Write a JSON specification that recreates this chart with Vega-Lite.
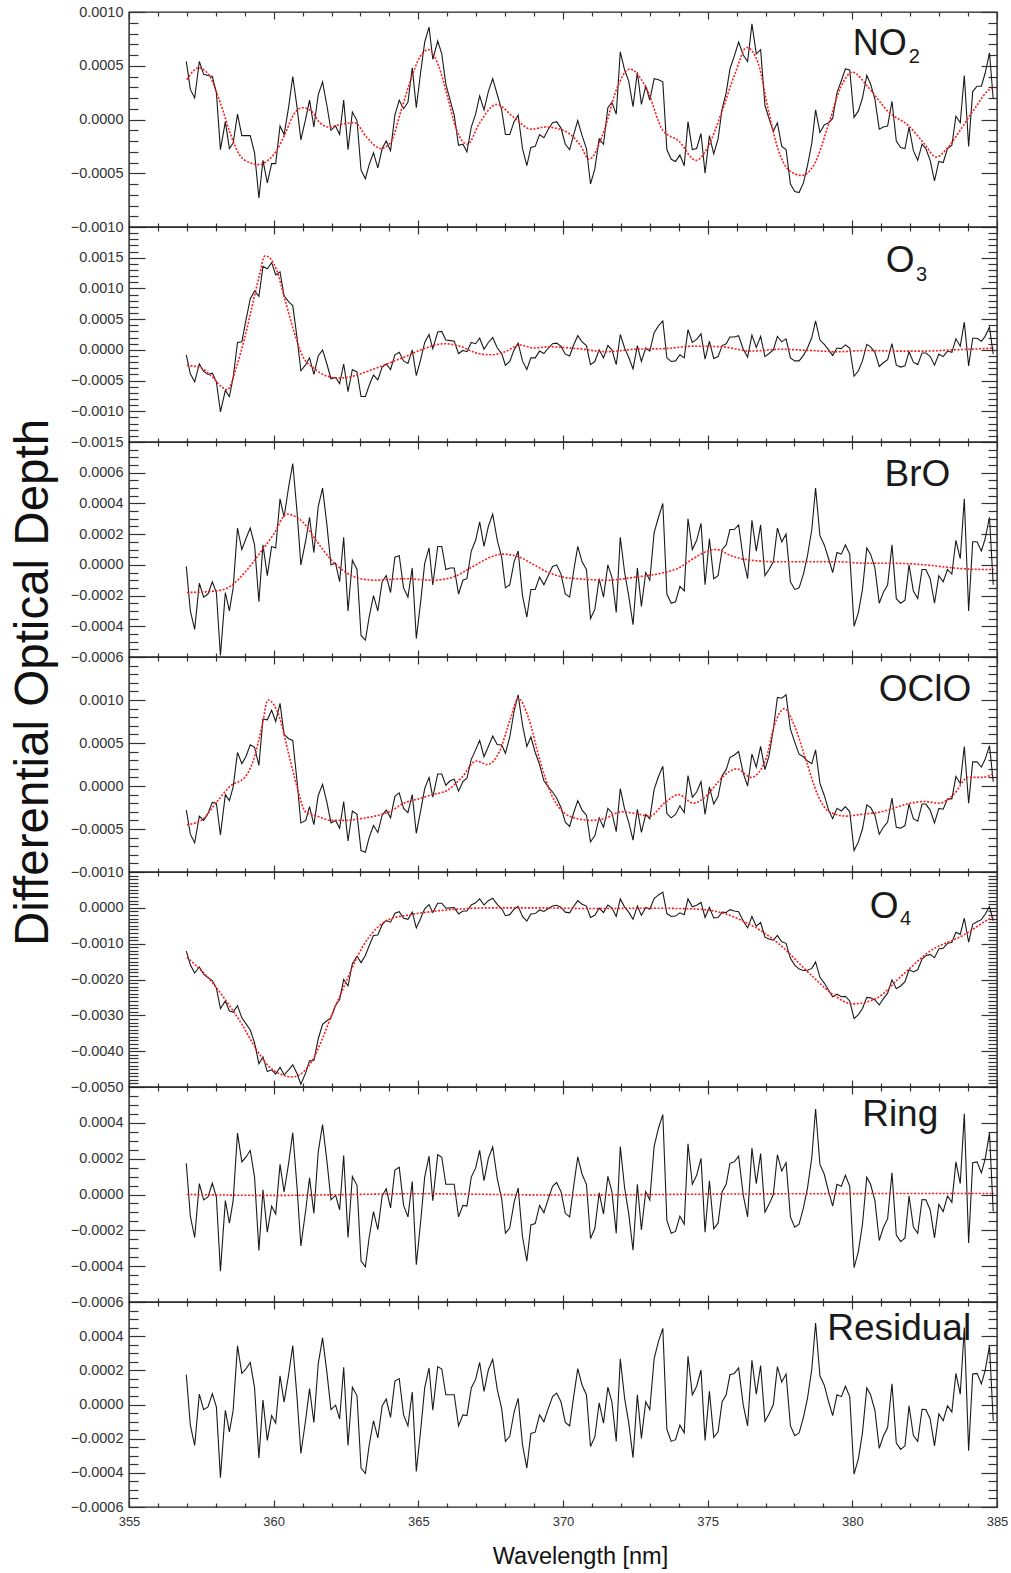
{
"$schema": "https://vega.github.io/schema/vega-lite/v6.json",
"padding": {"left": 8, "top": 3, "right": 5, "bottom": 5},
"bounds": "flush",
"spacing": 0,
"datasets": {
"meas": [
{"w":356.98,"no2":0.00054,"o3":-0.00008,"bro":-0.00001,"oclo":-0.00028,"o4":-0.00121,"res":0.000174},
{"w":357.12,"no2":0.00028,"o3":-0.00039,"bro":-0.0003,"oclo":-0.00056,"o4":-0.00159,"res":-0.000121},
{"w":357.27,"no2":0.0002,"o3":-0.00052,"bro":-0.00042,"oclo":-0.00066,"o4":-0.00182,"res":-0.00024},
{"w":357.43,"no2":0.00054,"o3":-0.00023,"bro":-0.00012,"oclo":-0.00035,"o4":-0.00165,"res":0.000061},
{"w":357.58,"no2":0.00042,"o3":-0.00035,"bro":-0.00021,"oclo":-0.0004,"o4":-0.00185,"res":-0.00003},
{"w":357.73,"no2":0.00041,"o3":-0.0004,"bro":-0.00019,"oclo":-0.00032,"o4":-0.00195,"res":-0.000014},
{"w":357.88,"no2":0.0004,"o3":-0.00038,"bro":-0.00011,"oclo":-0.00019,"o4":-0.00203,"res":0.000063},
{"w":358.02,"no2":0.00025,"o3":-0.00052,"bro":-0.00018,"oclo":-0.0002,"o4":-0.00224,"res":-0.000014},
{"w":358.16,"no2":-0.00028,"o3":-0.00101,"bro":-0.00059,"oclo":-0.00057,"o4":-0.00281,"res":-0.000428},
{"w":358.33,"no2":-0.00002,"o3":-0.00066,"bro":-0.00018,"oclo":-0.0001,"o4":-0.0026,"res":-0.000034},
{"w":358.47,"no2":-0.00027,"o3":-0.00076,"bro":-0.0003,"oclo":-0.00017,"o4":-0.00288,"res":-0.00016},
{"w":358.6,"no2":-0.00022,"o3":-0.00045,"bro":-0.00015,"oclo":-0.00001,"o4":-0.00291,"res":-0.000034},
{"w":358.75,"no2":0.00005,"o3":0.00012,"bro":0.00024,"oclo":0.00039,"o4":-0.00273,"res":0.000343},
{"w":358.9,"no2":-0.00015,"o3":0.00013,"bro":0.0001,"oclo":0.00026,"o4":-0.00307,"res":0.000182},
{"w":359.04,"no2":-0.00015,"o3":0.00048,"bro":0.00017,"oclo":0.00034,"o4":-0.00323,"res":0.000208},
{"w":359.19,"no2":-0.00015,"o3":0.00083,"bro":0.00024,"oclo":0.00048,"o4":-0.00341,"res":0.000246},
{"w":359.34,"no2":-0.00031,"o3":0.00096,"bro":0.00013,"oclo":0.00045,"o4":-0.00377,"res":0.000097},
{"w":359.49,"no2":-0.00073,"o3":0.00087,"bro":-0.00024,"oclo":0.00024,"o4":-0.00435,"res":-0.000313},
{"w":359.63,"no2":-0.00038,"o3":0.00136,"bro":0.00013,"oclo":0.00078,"o4":-0.00416,"res":0.000026},
{"w":359.78,"no2":-0.00059,"o3":0.00132,"bro":-0.00007,"oclo":0.00077,"o4":-0.00457,"res":-0.00021},
{"w":359.93,"no2":-0.00041,"o3":0.00142,"bro":0.00012,"oclo":0.00088,"o4":-0.00452,"res":-0.000065},
{"w":360.07,"no2":-0.00041,"o3":0.00122,"bro":0.00011,"oclo":0.00075,"o4":-0.00464,"res":-0.000109},
{"w":360.22,"no2":-0.00006,"o3":0.00127,"bro":0.00043,"oclo":0.00096,"o4":-0.00445,"res":0.000168},
{"w":360.36,"no2":-0.00014,"o3":0.00088,"bro":0.00031,"oclo":0.0006,"o4":-0.00466,"res":0.000014},
{"w":360.52,"no2":0.00012,"o3":0.00078,"bro":0.00051,"oclo":0.00055,"o4":-0.00452,"res":0.000178},
{"w":360.66,"no2":0.0004,"o3":0.00072,"bro":0.00066,"oclo":0.00053,"o4":-0.00438,"res":0.000345},
{"w":360.81,"no2":0.00011,"o3":0.00019,"bro":0.00034,"oclo":0.00005,"o4":-0.00463,"res":0.000036},
{"w":360.94,"no2":-0.00019,"o3":-0.00034,"bro":0,"oclo":-0.00043,"o4":-0.00492,"res":-0.000287},
{"w":361.11,"no2":0.00001,"o3":-0.00024,"bro":0.00016,"oclo":-0.0004,"o4":-0.0046,"res":-0.000085},
{"w":361.24,"no2":0.00018,"o3":-0.00013,"bro":0.00031,"oclo":-0.00024,"o4":-0.00427,"res":0.000093},
{"w":361.39,"no2":-0.00007,"o3":-0.0004,"bro":0.00008,"oclo":-0.00045,"o4":-0.00426,"res":-0.000105},
{"w":361.54,"no2":0.00023,"o3":-0.0001,"bro":0.00038,"oclo":-0.00011,"o4":-0.00366,"res":0.000238},
{"w":361.69,"no2":0.00035,"o3":0,"bro":0.0005,"oclo":0.00002,"o4":-0.00325,"res":0.00039},
{"w":361.84,"no2":0.00013,"o3":-0.00023,"bro":0.00026,"oclo":-0.00019,"o4":-0.00315,"res":0.000188},
{"w":361.98,"no2":-0.0001,"o3":-0.00047,"bro":0,"oclo":-0.00043,"o4":-0.00307,"res":-0.00003},
{"w":362.14,"no2":-0.00006,"o3":-0.00045,"bro":0.00001,"oclo":-0.0004,"o4":-0.00272,"res":-0.000004},
{"w":362.28,"no2":-0.00014,"o3":-0.00055,"bro":-0.00011,"oclo":-0.00049,"o4":-0.00256,"res":-0.000085},
{"w":362.42,"no2":0.00018,"o3":-0.00023,"bro":0.00018,"oclo":-0.00018,"o4":-0.002,"res":0.000218},
{"w":362.57,"no2":-0.00028,"o3":-0.00068,"bro":-0.0003,"oclo":-0.00064,"o4":-0.00218,"res":-0.00024},
{"w":362.72,"no2":0.00007,"o3":-0.00032,"bro":0.00003,"oclo":-0.00029,"o4":-0.00156,"res":0.000101},
{"w":362.88,"no2":-0.00001,"o3":-0.00036,"bro":-0.00003,"oclo":-0.00033,"o4":-0.00135,"res":0.000051},
{"w":363.02,"no2":-0.00047,"o3":-0.00076,"bro":-0.00046,"oclo":-0.00075,"o4":-0.00153,"res":-0.000372},
{"w":363.17,"no2":-0.00055,"o3":-0.00076,"bro":-0.00049,"oclo":-0.00077,"o4":-0.00133,"res":-0.000404},
{"w":363.3,"no2":-0.00042,"o3":-0.00058,"bro":-0.00034,"oclo":-0.0006,"o4":-0.00106,"res":-0.00024},
{"w":363.45,"no2":-0.00031,"o3":-0.00041,"bro":-0.0002,"oclo":-0.00046,"o4":-0.00077,"res":-0.000095},
{"w":363.6,"no2":-0.00045,"o3":-0.00049,"bro":-0.0003,"oclo":-0.00054,"o4":-0.00076,"res":-0.000196},
{"w":363.75,"no2":-0.00027,"o3":-0.00028,"bro":-0.00011,"oclo":-0.00034,"o4":-0.00047,"res":-0.000008},
{"w":363.89,"no2":-0.0002,"o3":-0.00023,"bro":-0.00007,"oclo":-0.00028,"o4":-0.00035,"res":0.000032},
{"w":364.04,"no2":-0.00029,"o3":-0.00032,"bro":-0.00018,"oclo":-0.00037,"o4":-0.0004,"res":-0.000075},
{"w":364.19,"no2":0.00004,"o3":-0.00008,"bro":0.00005,"oclo":-0.00012,"o4":-0.00015,"res":0.000137},
{"w":364.34,"no2":0.00018,"o3":-0.00004,"bro":0.00006,"oclo":-0.00008,"o4":-0.00011,"res":0.000152},
{"w":364.49,"no2":0.0001,"o3":-0.00018,"bro":-0.00015,"oclo":-0.00026,"o4":-0.00029,"res":-0.000061},
{"w":364.64,"no2":0.00016,"o3":-0.00022,"bro":-0.00021,"oclo":-0.00031,"o4":-0.00032,"res":-0.000125},
{"w":364.79,"no2":0.00048,"o3":0,"bro":-0.00002,"oclo":-0.0001,"o4":-0.00012,"res":0.000073},
{"w":364.93,"no2":0.00011,"o3":-0.00042,"bro":-0.00048,"oclo":-0.00055,"o4":-0.00056,"res":-0.000392},
{"w":365.08,"no2":0.00044,"o3":-0.00016,"bro":-0.00024,"oclo":-0.00029,"o4":-0.0003,"res":-0.000152},
{"w":365.22,"no2":0.00072,"o3":0.00012,"bro":0.00001,"oclo":-0.00003,"o4":-0.00003,"res":0.000097},
{"w":365.37,"no2":0.00086,"o3":0.00025,"bro":0.00011,"oclo":0.0001,"o4":0.00009,"res":0.000214},
{"w":365.5,"no2":0.00056,"o3":0.00002,"bro":-0.00013,"oclo":-0.00013,"o4":-0.00013,"res":-0.000034},
{"w":365.67,"no2":0.00073,"o3":0.00029,"bro":0.00012,"oclo":0.00014,"o4":0.00013,"res":0.000222},
{"w":365.81,"no2":0.00061,"o3":0.0003,"bro":0.00012,"oclo":0.00014,"o4":0.00013,"res":0.000208},
{"w":365.95,"no2":0.00033,"o3":0.00016,"bro":-0.00003,"oclo":0.00001,"o4":-0.00001,"res":0.000057},
{"w":366.1,"no2":0.00018,"o3":0.00015,"bro":-0.00002,"oclo":0.00006,"o4":0,"res":0.000057},
{"w":366.24,"no2":0.00004,"o3":0.00014,"bro":-0.00002,"oclo":0.00008,"o4":0.00001,"res":0.000057},
{"w":366.39,"no2":-0.00024,"o3":-0.00006,"bro":-0.00019,"oclo":-0.00006,"o4":-0.00017,"res":-0.000125},
{"w":366.54,"no2":-0.00023,"o3":-0.00001,"bro":-0.0001,"oclo":0.00005,"o4":-0.00009,"res":-0.000061},
{"w":366.68,"no2":-0.0003,"o3":-0.00003,"bro":-0.00009,"oclo":0.00009,"o4":-0.00009,"res":-0.000065},
{"w":366.83,"no2":-0.00007,"o3":0.00012,"bro":0.00009,"oclo":0.00031,"o4":0.00008,"res":0.000097},
{"w":366.98,"no2":0.00005,"o3":0.0001,"bro":0.00016,"oclo":0.00042,"o4":0.00014,"res":0.000147},
{"w":367.12,"no2":0.00022,"o3":0.00019,"bro":0.00028,"oclo":0.00053,"o4":0.00025,"res":0.000246},
{"w":367.27,"no2":0.00009,"o3":0.00001,"bro":0.00012,"oclo":0.00034,"o4":0.00008,"res":0.000077},
{"w":367.42,"no2":0.00026,"o3":0.00012,"bro":0.00025,"oclo":0.00046,"o4":0.0002,"res":0.000202},
{"w":367.57,"no2":0.00038,"o3":0.0002,"bro":0.00033,"oclo":0.00058,"o4":0.00027,"res":0.000265},
{"w":367.73,"no2":0.00023,"o3":0.00003,"bro":0.00016,"oclo":0.00048,"o4":0.00009,"res":0.000087},
{"w":367.88,"no2":0.00009,"o3":-0.00006,"bro":0.00005,"oclo":0.00048,"o4":-0.00002,"res":-0.000024},
{"w":368.01,"no2":-0.00014,"o3":-0.00025,"bro":-0.00015,"oclo":0.00038,"o4":-0.00022,"res":-0.000216},
{"w":368.16,"no2":-0.00014,"o3":-0.00019,"bro":-0.00013,"oclo":0.00057,"o4":-0.00019,"res":-0.000186},
{"w":368.31,"no2":-0.00002,"o3":0,"bro":0.00002,"oclo":0.00087,"o4":-0.00004,"res":-0.000044},
{"w":368.45,"no2":0.00004,"o3":0.00011,"bro":0.00009,"oclo":0.00106,"o4":0.00004,"res":0.000036},
{"w":368.6,"no2":-0.00027,"o3":-0.00018,"bro":-0.0002,"oclo":0.00071,"o4":-0.00024,"res":-0.000236},
{"w":368.75,"no2":-0.00043,"o3":-0.00032,"bro":-0.00034,"oclo":0.00046,"o4":-0.00037,"res":-0.000372},
{"w":368.89,"no2":-0.00026,"o3":-0.00013,"bro":-0.00016,"oclo":0.00057,"o4":-0.00017,"res":-0.00017},
{"w":369.04,"no2":-0.00025,"o3":-0.00013,"bro":-0.00016,"oclo":0.00039,"o4":-0.00016,"res":-0.000162},
{"w":369.19,"no2":-0.00014,"o3":-0.00002,"bro":-0.00008,"oclo":0.00025,"o4":-0.00006,"res":-0.000061},
{"w":369.34,"no2":-0.00017,"o3":-0.00006,"bro":-0.00013,"oclo":0.00006,"o4":-0.0001,"res":-0.000101},
{"w":369.49,"no2":-0.00009,"o3":0.00003,"bro":-0.00007,"oclo":-0.00001,"o4":-0.00002,"res":-0.000024},
{"w":369.64,"no2":-0.00003,"o3":0.0001,"bro":-0.00001,"oclo":-0.00007,"o4":0.00005,"res":0.000046},
{"w":369.78,"no2":-0.00002,"o3":0.00011,"bro":0,"oclo":-0.00014,"o4":0.00007,"res":0.000067},
{"w":369.93,"no2":-0.00008,"o3":0.00006,"bro":-0.00006,"oclo":-0.00025,"o4":0.00002,"res":0.000016},
{"w":370.08,"no2":-0.00023,"o3":-0.00007,"bro":-0.00019,"oclo":-0.00042,"o4":-0.00012,"res":-0.000105},
{"w":370.23,"no2":-0.00028,"o3":-0.0001,"bro":-0.00021,"oclo":-0.00047,"o4":-0.00014,"res":-0.000125},
{"w":370.36,"no2":-0.00015,"o3":0.00007,"bro":-0.00005,"oclo":-0.00032,"o4":0.00003,"res":0.000036},
{"w":370.51,"no2":-0.00001,"o3":0.00023,"bro":0.00012,"oclo":-0.00017,"o4":0.0002,"res":0.00021},
{"w":370.66,"no2":-0.00015,"o3":0.00013,"bro":0.00002,"oclo":-0.00028,"o4":0.0001,"res":0.000113},
{"w":370.81,"no2":-0.00027,"o3":0.00007,"bro":-0.00003,"oclo":-0.00034,"o4":0.00005,"res":0.000057},
{"w":370.95,"no2":-0.0006,"o3":-0.00024,"bro":-0.00035,"oclo":-0.00065,"o4":-0.00027,"res":-0.000246},
{"w":371.1,"no2":-0.00046,"o3":-0.00019,"bro":-0.00029,"oclo":-0.00058,"o4":-0.00021,"res":-0.00019},
{"w":371.25,"no2":-0.00018,"o3":0,"bro":-0.00009,"oclo":-0.00037,"o4":-0.00001,"res":0.00001},
{"w":371.4,"no2":-0.00023,"o3":-0.00013,"bro":-0.00021,"oclo":-0.00048,"o4":-0.00013,"res":-0.000109},
{"w":371.55,"no2":0.00011,"o3":0.00007,"bro":0,"oclo":-0.00026,"o4":0.00008,"res":0.000101},
{"w":371.69,"no2":0.00016,"o3":0,"bro":-0.00008,"oclo":-0.00031,"o4":0,"res":0.000016},
{"w":371.84,"no2":0.00005,"o3":-0.00024,"bro":-0.00031,"oclo":-0.00053,"o4":-0.00024,"res":-0.000216},
{"w":371.98,"no2":0.00063,"o3":0.00025,"bro":0.00018,"oclo":-0.00003,"o4":0.00025,"res":0.000267},
{"w":372.13,"no2":0.00046,"o3":0.00003,"bro":-0.00005,"oclo":-0.00027,"o4":0.00002,"res":0.000036},
{"w":372.27,"no2":0.00036,"o3":-0.00012,"bro":-0.0002,"oclo":-0.00042,"o4":-0.00012,"res":-0.000105},
{"w":372.42,"no2":0.00012,"o3":-0.00031,"bro":-0.00039,"oclo":-0.00063,"o4":-0.00032,"res":-0.000311},
{"w":372.57,"no2":0.00044,"o3":0.00007,"bro":-0.00002,"oclo":-0.00027,"o4":0.00005,"res":0.000057},
{"w":372.71,"no2":0.00014,"o3":-0.00019,"bro":-0.00027,"oclo":-0.00054,"o4":-0.00021,"res":-0.000198},
{"w":372.86,"no2":0.00031,"o3":0.00003,"bro":-0.00005,"oclo":-0.00033,"o4":0.00001,"res":0.000016},
{"w":373.0,"no2":0.00018,"o3":-0.00002,"bro":-0.0001,"oclo":-0.00038,"o4":-0.00004,"res":-0.00003},
{"w":373.15,"no2":0.00038,"o3":0.00028,"bro":0.00021,"oclo":-0.00004,"o4":0.00026,"res":0.000269},
{"w":373.3,"no2":0.00037,"o3":0.00039,"bro":0.00031,"oclo":0.00011,"o4":0.00036,"res":0.00037},
{"w":373.45,"no2":0.00035,"o3":0.00047,"bro":0.0004,"oclo":0.00023,"o4":0.00044,"res":0.000446},
{"w":373.59,"no2":-0.00028,"o3":-0.00013,"bro":-0.00019,"oclo":-0.00032,"o4":-0.00016,"res":-0.000145},
{"w":373.74,"no2":-0.00037,"o3":-0.00019,"bro":-0.00025,"oclo":-0.00037,"o4":-0.00024,"res":-0.000216},
{"w":373.89,"no2":-0.00039,"o3":-0.00018,"bro":-0.00024,"oclo":-0.00033,"o4":-0.00023,"res":-0.000206},
{"w":374.04,"no2":-0.00033,"o3":-0.00008,"bro":-0.00014,"oclo":-0.00023,"o4":-0.00014,"res":-0.000121},
{"w":374.19,"no2":-0.00043,"o3":-0.00013,"bro":-0.00017,"oclo":-0.00031,"o4":-0.00019,"res":-0.000166},
{"w":374.32,"no2":-0.00002,"o3":0.00033,"bro":0.0003,"oclo":0.00012,"o4":0.00025,"res":0.000283},
{"w":374.47,"no2":-0.00028,"o3":0.00012,"bro":0.0001,"oclo":-0.00013,"o4":0.00003,"res":0.000057},
{"w":374.62,"no2":-0.00027,"o3":0.00017,"bro":0.00016,"oclo":-0.00007,"o4":0.00007,"res":0.000107},
{"w":374.77,"no2":-0.00013,"o3":0.00026,"bro":0.00027,"oclo":0.00005,"o4":0.00015,"res":0.000202},
{"w":374.91,"no2":-0.0005,"o3":-0.00015,"bro":-0.00013,"oclo":-0.00033,"o4":-0.00027,"res":-0.00021},
{"w":375.06,"no2":-0.00015,"o3":0.00014,"bro":0.00017,"oclo":-0.00001,"o4":0.00001,"res":0.000077},
{"w":375.21,"no2":-0.00032,"o3":-0.00014,"bro":-0.00009,"oclo":-0.00021,"o4":-0.00028,"res":-0.000192},
{"w":375.36,"no2":-0.00018,"o3":-0.00011,"bro":-0.00007,"oclo":-0.00012,"o4":-0.00027,"res":-0.00016},
{"w":375.5,"no2":0.0001,"o3":0.00007,"bro":0.0001,"oclo":0.00012,"o4":-0.00012,"res":0.000016},
{"w":375.64,"no2":0.00025,"o3":0.0001,"bro":0.00013,"oclo":0.00019,"o4":-0.00013,"res":0.000057},
{"w":375.77,"no2":0.00047,"o3":0.00021,"bro":0.00023,"oclo":0.00033,"o4":-0.00005,"res":0.000174},
{"w":375.92,"no2":0.00059,"o3":0.00021,"bro":0.00023,"oclo":0.00036,"o4":-0.00009,"res":0.000182},
{"w":376.07,"no2":0.00072,"o3":0.00023,"bro":0.00026,"oclo":0.0004,"o4":-0.00011,"res":0.000214},
{"w":376.23,"no2":0.0006,"o3":0.00001,"bro":0.00004,"oclo":0.00015,"o4":-0.00037,"res":-0.000004},
{"w":376.38,"no2":0.00054,"o3":-0.00012,"bro":-0.00009,"oclo":0,"o4":-0.00056,"res":-0.000125},
{"w":376.53,"no2":0.00089,"o3":0.00024,"bro":0.00029,"oclo":0.00037,"o4":-0.00024,"res":0.000259},
{"w":376.68,"no2":0.00061,"o3":0.00004,"bro":0.00009,"oclo":0.00022,"o4":-0.00051,"res":0.000061},
{"w":376.83,"no2":0.00065,"o3":0.00022,"bro":0.00026,"oclo":0.00046,"o4":-0.00041,"res":0.000228},
{"w":376.98,"no2":0.00013,"o3":-0.00011,"bro":-0.00007,"oclo":0.00019,"o4":-0.00082,"res":-0.000099},
{"w":377.12,"no2":0.00001,"o3":-0.00006,"bro":-0.00003,"oclo":0.00035,"o4":-0.00087,"res":-0.000055},
{"w":377.27,"no2":-0.00011,"o3":0,"bro":0.00002,"oclo":0.00066,"o4":-0.0009,"res":0},
{"w":377.41,"no2":-0.00003,"o3":0.00022,"bro":0.00024,"oclo":0.00103,"o4":-0.00077,"res":0.000222},
{"w":377.56,"no2":-0.00025,"o3":0.00013,"bro":0.00015,"oclo":0.00102,"o4":-0.00095,"res":0.000131},
{"w":377.71,"no2":-0.00028,"o3":0.00018,"bro":0.0002,"oclo":0.00106,"o4":-0.00099,"res":0.000178},
{"w":377.86,"no2":-0.0006,"o3":-0.00013,"bro":-0.00011,"oclo":0.00066,"o4":-0.00141,"res":-0.000125},
{"w":378.01,"no2":-0.00067,"o3":-0.00018,"bro":-0.00016,"oclo":0.00051,"o4":-0.0016,"res":-0.000182},
{"w":378.16,"no2":-0.00068,"o3":-0.00018,"bro":-0.00015,"oclo":0.00037,"o4":-0.00171,"res":-0.000166},
{"w":378.31,"no2":-0.00059,"o3":-0.00009,"bro":-0.00006,"oclo":0.00034,"o4":-0.00175,"res":-0.000075},
{"w":378.45,"no2":-0.00043,"o3":0.00003,"bro":0.00006,"oclo":0.00029,"o4":-0.00174,"res":0.000036},
{"w":378.6,"no2":-0.00022,"o3":0.0002,"bro":0.00023,"oclo":0.00026,"o4":-0.00169,"res":0.000208},
{"w":378.73,"no2":0.00009,"o3":0.00047,"bro":0.0005,"oclo":0.00042,"o4":-0.00151,"res":0.000477},
{"w":378.88,"no2":-0.00012,"o3":0.00016,"bro":0.00019,"oclo":0.00003,"o4":-0.00194,"res":0.000168},
{"w":379.03,"no2":-0.00005,"o3":0.00009,"bro":0.00013,"oclo":-0.00011,"o4":-0.0021,"res":0.000113},
{"w":379.18,"no2":-0.00003,"o3":0,"bro":0.00004,"oclo":-0.00028,"o4":-0.0023,"res":0.000016},
{"w":379.32,"no2":0.00001,"o3":-0.00009,"bro":-0.00005,"oclo":-0.00038,"o4":-0.00248,"res":-0.000065},
{"w":379.47,"no2":0.00025,"o3":0.00003,"bro":0.00008,"oclo":-0.00026,"o4":-0.00241,"res":0.000057},
{"w":379.62,"no2":0.00036,"o3":0.00002,"bro":0.00007,"oclo":-0.00029,"o4":-0.00248,"res":0.000046},
{"w":379.76,"no2":0.00047,"o3":0.00008,"bro":0.00013,"oclo":-0.00024,"o4":-0.00247,"res":0.000107},
{"w":379.91,"no2":0.00046,"o3":0.00003,"bro":0.00007,"oclo":-0.0003,"o4":-0.0026,"res":0.000046},
{"w":380.06,"no2":0.00002,"o3":-0.00043,"bro":-0.0004,"oclo":-0.00075,"o4":-0.00309,"res":-0.000408},
{"w":380.21,"no2":0.00008,"o3":-0.00034,"bro":-0.00031,"oclo":-0.00065,"o4":-0.00298,"res":-0.000317},
{"w":380.35,"no2":0.0002,"o3":-0.00018,"bro":-0.00016,"oclo":-0.0005,"o4":-0.00281,"res":-0.000166},
{"w":380.5,"no2":0.00041,"o3":0.00009,"bro":0.00011,"oclo":-0.00022,"o4":-0.0025,"res":0.000097},
{"w":380.63,"no2":0.00033,"o3":0.00005,"bro":0.00007,"oclo":-0.00025,"o4":-0.00251,"res":0.000057},
{"w":380.78,"no2":0.00019,"o3":-0.00004,"bro":-0.00002,"oclo":-0.00034,"o4":-0.00257,"res":-0.000034},
{"w":380.93,"no2":-0.00009,"o3":-0.00027,"bro":-0.00025,"oclo":-0.00056,"o4":-0.00271,"res":-0.000257},
{"w":381.07,"no2":-0.00007,"o3":-0.00021,"bro":-0.00018,"oclo":-0.00048,"o4":-0.00254,"res":-0.000186},
{"w":381.22,"no2":-0.00006,"o3":-0.00016,"bro":-0.00013,"oclo":-0.00042,"o4":-0.00238,"res":-0.000135},
{"w":381.37,"no2":0.00017,"o3":0.0001,"bro":0.00013,"oclo":-0.00014,"o4":-0.00201,"res":0.000121},
{"w":381.52,"no2":-0.0002,"o3":-0.00025,"bro":-0.00022,"oclo":-0.00048,"o4":-0.00226,"res":-0.000226},
{"w":381.67,"no2":-0.00026,"o3":-0.00028,"bro":-0.00025,"oclo":-0.00049,"o4":-0.00218,"res":-0.000263},
{"w":381.82,"no2":-0.00027,"o3":-0.00026,"bro":-0.00023,"oclo":-0.00046,"o4":-0.00206,"res":-0.000242},
{"w":381.96,"no2":-0.00007,"o3":-0.00003,"bro":0,"oclo":-0.00021,"o4":-0.00173,"res":-0.000008},
{"w":382.11,"no2":-0.00029,"o3":-0.0002,"bro":-0.00017,"oclo":-0.00038,"o4":-0.00179,"res":-0.000182},
{"w":382.26,"no2":-0.00038,"o3":-0.00024,"bro":-0.00022,"oclo":-0.00041,"o4":-0.00173,"res":-0.000216},
{"w":382.41,"no2":-0.00023,"o3":-0.00005,"bro":-0.00003,"oclo":-0.00021,"o4":-0.00143,"res":-0.000028},
{"w":382.54,"no2":-0.00027,"o3":-0.00005,"bro":-0.00003,"oclo":-0.00021,"o4":-0.00134,"res":-0.00003},
{"w":382.69,"no2":-0.00038,"o3":-0.00011,"bro":-0.00009,"oclo":-0.00028,"o4":-0.0013,"res":-0.000085},
{"w":382.84,"no2":-0.00057,"o3":-0.00025,"bro":-0.00025,"oclo":-0.00043,"o4":-0.00139,"res":-0.000242},
{"w":382.99,"no2":-0.00039,"o3":-0.00007,"bro":-0.00007,"oclo":-0.00026,"o4":-0.00115,"res":-0.000055},
{"w":383.14,"no2":-0.0004,"o3":-0.00011,"bro":-0.00011,"oclo":-0.00027,"o4":-0.00113,"res":-0.000095},
{"w":383.29,"no2":-0.00027,"o3":-0.00002,"bro":-0.00003,"oclo":-0.00015,"o4":-0.00099,"res":-0.000008},
{"w":383.44,"no2":-0.00024,"o3":-0.00004,"bro":-0.00006,"oclo":-0.00015,"o4":-0.00096,"res":-0.000044},
{"w":383.58,"no2":0.00003,"o3":0.00018,"bro":0.00016,"oclo":0.00011,"o4":-0.00068,"res":0.000182},
{"w":383.73,"no2":-0.00003,"o3":0.00006,"bro":0.00004,"oclo":0.00003,"o4":-0.00074,"res":0.000061},
{"w":383.87,"no2":0.00041,"o3":0.00045,"bro":0.00043,"oclo":0.00046,"o4":-0.00029,"res":0.00045},
{"w":384.02,"no2":-0.00025,"o3":-0.00026,"bro":-0.0003,"oclo":-0.0002,"o4":-0.00096,"res":-0.000271},
{"w":384.16,"no2":0.00026,"o3":0.00019,"bro":0.00015,"oclo":0.00028,"o4":-0.00046,"res":0.000178},
{"w":384.31,"no2":0.00031,"o3":0.00019,"bro":0.00015,"oclo":0.00028,"o4":-0.00039,"res":0.000182},
{"w":384.46,"no2":0.00031,"o3":0.00014,"bro":0.00009,"oclo":0.00022,"o4":-0.00033,"res":0.000121},
{"w":384.59,"no2":0.00043,"o3":0.00022,"bro":0.00017,"oclo":0.00031,"o4":-0.00018,"res":0.000198},
{"w":384.74,"no2":0.00062,"o3":0.00037,"bro":0.00031,"oclo":0.00047,"o4":0.00003,"res":0.000343},
{"w":384.87,"no2":0.00019,"o3":-0.00007,"bro":-0.00013,"oclo":0.00005,"o4":-0.00036,"res":-0.000095}
],
"no2f": [
{"w":357.0,"v":0.00037},{"w":357.4,"v":0.00048},{"w":357.8,"v":0.0004},{"w":358.0,"v":0.00027},{"w":358.25,"v":0.00008},{"w":358.5,"v":-0.00013},{"w":358.8,"v":-0.00032},{"w":359.15,"v":-0.0004},{"w":359.5,"v":-0.00042},{"w":359.8,"v":-0.00038},{"w":360.1,"v":-0.00029},{"w":360.4,"v":-0.00013},{"w":360.7,"v":0.00005},{"w":361.0,"v":0.00011},{"w":361.3,"v":0.00008},{"w":361.6,"v":-0.00003},{"w":361.9,"v":-0.00007},{"w":362.4,"v":-0.00004},{"w":362.8,"v":-0.00003},{"w":363.2,"v":-0.00016},{"w":363.7,"v":-0.00027},{"w":364.05,"v":-0.00021},{"w":364.4,"v":0.00008},{"w":364.75,"v":0.00038},{"w":365.05,"v":0.00058},{"w":365.35,"v":0.00065},{"w":365.7,"v":0.0005},{"w":366.0,"v":0.00022},{"w":366.3,"v":-0.00008},{"w":366.7,"v":-0.00023},{"w":367.1,"v":-0.00004},{"w":367.7,"v":0.00014},{"w":368.3,"v":0.00002},{"w":368.9,"v":-0.00009},{"w":369.4,"v":-0.00007},{"w":370.0,"v":-0.0001},{"w":370.6,"v":-0.00024},{"w":370.9,"v":-0.00037},{"w":371.4,"v":-0.00012},{"w":371.85,"v":0.00028},{"w":372.3,"v":0.00047},{"w":372.9,"v":0.00028},{"w":373.45,"v":-0.0001},{"w":374.0,"v":-0.0002},{"w":374.6,"v":-0.00038},{"w":375.0,"v":-0.00026},{"w":375.5,"v":0.00008},{"w":375.95,"v":0.00043},{"w":376.35,"v":0.00067},{"w":376.75,"v":0.00052},{"w":377.1,"v":0.00008},{"w":377.45,"v":-0.00029},{"w":377.8,"v":-0.00047},{"w":378.25,"v":-0.00052},{"w":378.7,"v":-0.00041},{"w":379.15,"v":-0.00007},{"w":379.6,"v":0.0003},{"w":380.0,"v":0.00044},{"w":380.55,"v":0.0003},{"w":381.25,"v":0.00007},{"w":381.95,"v":-0.00006},{"w":382.5,"v":-0.00023},{"w":382.9,"v":-0.00035},{"w":383.3,"v":-0.00026},{"w":383.8,"v":-0.00007},{"w":384.25,"v":0.00011},{"w":384.75,"v":0.00028},{"w":384.9,"v":0.00029}
],
"o3f": [
{"w":357.0,"v":-0.00025},{"w":357.5,"v":-0.0003},{"w":357.9,"v":-0.00045},{"w":358.2,"v":-0.0006},{"w":358.4,"v":-0.00065},{"w":358.7,"v":-0.0003},{"w":359.0,"v":0.0002},{"w":359.3,"v":0.0008},{"w":359.5,"v":0.0012},{"w":359.7,"v":0.00153},{"w":359.9,"v":0.00148},{"w":360.1,"v":0.0013},{"w":360.4,"v":0.0008},{"w":360.7,"v":0.0003},{"w":361.0,"v":-0.0001},{"w":361.4,"v":-0.0003},{"w":361.8,"v":-0.00042},{"w":362.3,"v":-0.00046},{"w":362.8,"v":-0.00042},{"w":363.3,"v":-0.00034},{"w":363.8,"v":-0.00025},{"w":364.5,"v":-0.00012},{"w":365.2,"v":0.00002},{"w":365.9,"v":0.0001},{"w":366.5,"v":0.00005},{"w":367.0,"v":-0.00005},{"w":367.5,"v":-0.00008},{"w":368.0,"v":-0.00003},{"w":368.5,"v":0.00008},{"w":369.0,"v":0.00003},{"w":369.5,"v":0.00005},{"w":370.5,"v":0.00002},{"w":371.5,"v":-0.00003},{"w":372.5,"v":0.00001},{"w":373.5,"v":0.00002},{"w":374.5,"v":0.00006},{"w":375.5,"v":0.00005},{"w":376.5,"v":-0.00002},{"w":377.5,"v":0.00001},{"w":378.5,"v":-0.00001},{"w":379.5,"v":-0.00003},{"w":380.5,"v":-0.00001},{"w":381.5,"v":-0.00002},{"w":382.5,"v":-0.00002},{"w":383.5,"v":0},{"w":384.5,"v":0.00002},{"w":384.9,"v":0.00003}
],
"brof": [
{"w":357.0,"v":-0.00018},{"w":358.0,"v":-0.00017},{"w":358.5,"v":-0.00014},{"w":359.0,"v":-0.00005},{"w":359.5,"v":0.00007},{"w":360.0,"v":0.0002},{"w":360.45,"v":0.00033},{"w":361.0,"v":0.00028},{"w":361.5,"v":0.00015},{"w":362.0,"v":0.00003},{"w":362.5,"v":-0.00005},{"w":363.0,"v":-0.00009},{"w":363.5,"v":-0.0001},{"w":364.5,"v":-0.00009},{"w":365.5,"v":-0.0001},{"w":366.2,"v":-0.00008},{"w":366.8,"v":-0.00002},{"w":367.5,"v":0.00005},{"w":367.9,"v":0.00007},{"w":368.5,"v":0.00005},{"w":369.0,"v":0},{"w":369.5,"v":-0.00005},{"w":370.0,"v":-0.00008},{"w":370.5,"v":-0.00009},{"w":371.5,"v":-0.0001},{"w":372.5,"v":-0.00008},{"w":373.5,"v":-0.00005},{"w":374.0,"v":-0.00002},{"w":374.5,"v":0.00004},{"w":375.0,"v":0.00009},{"w":375.3,"v":0.0001},{"w":375.8,"v":0.00006},{"w":376.5,"v":0.00003},{"w":377.5,"v":0.00002},{"w":378.5,"v":0.00002},{"w":379.5,"v":0.00002},{"w":380.5,"v":0.00001},{"w":381.5,"v":0.00001},{"w":382.5,"v":0},{"w":383.0,"v":-0.00001},{"w":383.5,"v":-0.00002},{"w":384.5,"v":-0.00003},{"w":384.9,"v":-0.00003}
],
"oclof": [
{"w":357.0,"v":-0.00045},{"w":357.5,"v":-0.0004},{"w":358.0,"v":-0.0002},{"w":358.5,"v":0},{"w":359.0,"v":0.0001},{"w":359.3,"v":0.0003},{"w":359.6,"v":0.0007},{"w":359.8,"v":0.001},{"w":360.2,"v":0.0008},{"w":360.5,"v":0.0004},{"w":360.8,"v":0},{"w":361.1,"v":-0.0003},{"w":361.5,"v":-0.00035},{"w":362.0,"v":-0.0004},{"w":362.5,"v":-0.0004},{"w":363.0,"v":-0.00038},{"w":363.5,"v":-0.00035},{"w":364.0,"v":-0.0003},{"w":364.5,"v":-0.0002},{"w":365.0,"v":-0.00015},{"w":365.5,"v":-0.0001},{"w":366.0,"v":-0.00005},{"w":366.5,"v":0.0001},{"w":367.0,"v":0.00029},{"w":367.4,"v":0.00025},{"w":367.8,"v":0.0004},{"w":368.2,"v":0.0008},{"w":368.45,"v":0.00102},{"w":368.8,"v":0.0008},{"w":369.2,"v":0.0003},{"w":369.6,"v":-0.0001},{"w":370.0,"v":-0.0003},{"w":370.5,"v":-0.00038},{"w":371.0,"v":-0.0004},{"w":371.5,"v":-0.00037},{"w":372.0,"v":-0.0003},{"w":372.5,"v":-0.00032},{"w":373.0,"v":-0.00035},{"w":373.5,"v":-0.0002},{"w":374.0,"v":-0.0001},{"w":374.5,"v":-0.0002},{"w":375.0,"v":-0.0001},{"w":375.5,"v":0.0001},{"w":376.0,"v":0.0002},{"w":376.5,"v":0.0001},{"w":377.0,"v":0.0003},{"w":377.3,"v":0.0007},{"w":377.65,"v":0.0009},{"w":378.0,"v":0.0007},{"w":378.4,"v":0.0003},{"w":378.8,"v":-0.0001},{"w":379.2,"v":-0.0003},{"w":379.8,"v":-0.00035},{"w":380.3,"v":-0.00033},{"w":381.0,"v":-0.0003},{"w":381.5,"v":-0.00025},{"w":382.0,"v":-0.0002},{"w":382.5,"v":-0.00018},{"w":383.0,"v":-0.0002},{"w":383.5,"v":-0.0001},{"w":384.0,"v":0.0001},{"w":384.5,"v":0.0001},{"w":384.9,"v":0.00015}
],
"o4f": [
{"w":357.0,"v":-0.00138},{"w":357.3,"v":-0.0016},{"w":357.64,"v":-0.00186},{"w":357.98,"v":-0.00219},{"w":358.45,"v":-0.0027},{"w":358.91,"v":-0.00326},{"w":359.37,"v":-0.00391},{"w":359.83,"v":-0.00442},{"w":360.29,"v":-0.00466},{"w":360.63,"v":-0.00472},{"w":360.98,"v":-0.00461},{"w":361.32,"v":-0.00428},{"w":361.67,"v":-0.00368},{"w":362.01,"v":-0.00298},{"w":362.36,"v":-0.00233},{"w":362.71,"v":-0.00168},{"w":363.05,"v":-0.00112},{"w":363.51,"v":-0.00061},{"w":363.97,"v":-0.00033},{"w":364.66,"v":-0.0002},{"w":365.5,"v":-0.0001},{"w":366.5,"v":-0.00003},{"w":367.5,"v":0},{"w":369.0,"v":0},{"w":371.0,"v":-0.00002},{"w":373.0,"v":-0.00001},{"w":374.5,"v":-0.00003},{"w":375.5,"v":-0.00014},{"w":376.2,"v":-0.00036},{"w":376.9,"v":-0.00067},{"w":377.6,"v":-0.0011},{"w":378.25,"v":-0.00162},{"w":378.8,"v":-0.00205},{"w":379.3,"v":-0.0024},{"w":380.0,"v":-0.00268},{"w":380.8,"v":-0.00254},{"w":381.7,"v":-0.0019},{"w":382.7,"v":-0.0012},{"w":383.8,"v":-0.00078},{"w":384.8,"v":-0.00028},{"w":384.9,"v":-0.00024}
],
"ringf": [
{"w":357.0,"v":0},{"w":360.0,"v":-0.000005},{"w":365.0,"v":0.000004},{"w":370.0,"v":-0.000003},{"w":375.0,"v":0.000002},{"w":380.0,"v":0.000005},{"w":384.9,"v":0.000006}
]
},
"vconcat": [
{"width": 868, "height": 215,
 "resolve": {"axis": {"x": "independent", "y": "independent"}},
 "layer": [
  {"data": {"name": "meas"}, "mark": {"type": "line", "color": "#1a1a1a", "strokeWidth": 1.1},
   "encoding": {
    "x": {"field": "w", "type": "quantitative", "scale": {"domain": [355, 385]}, "axis": {"orient": "bottom", "values": [355,360,365,370,375,380,385], "labels": false, "tickSize": -7, "title": null}},
    "y": {"field": "no2", "type": "quantitative", "scale": {"domain": [-0.001, 0.001]}, "axis": {"orient": "left", "values": [-0.001,-0.0005,0,0.0005,0.001], "format": ".4f", "tickSize": -16, "labelPadding": 22, "title": null}}}},
  {"data": {"name": "no2f"}, "mark": {"type": "line", "color": "#ff1a1a", "strokeWidth": 1.6, "strokeDash": [2, 1.6], "interpolate": "monotone"},
   "encoding": {
    "x": {"field": "w", "type": "quantitative", "scale": {"domain": [355, 385]}, "axis": {"orient": "top", "values": [355,360,365,370,375,380,385], "labels": false, "tickSize": -7, "title": null}},
    "y": {"field": "v", "type": "quantitative", "scale": {"domain": [-0.001, 0.001]}, "axis": {"orient": "right", "values": [-0.001,-0.0005,0,0.0005,0.001], "labels": false, "tickSize": -16, "title": null}}}},
  {"data": {"values": [{"t": "NO"}]}, "mark": {"type": "text", "align": "right", "baseline": "alphabetic", "fontSize": 36},
   "encoding": {
    "x": {"datum": 381.88, "type": "quantitative", "scale": {"domain": [355, 385]}, "axis": {"orient": "bottom", "values": [356,357,358,359,361,362,363,364,366,367,368,369,371,372,373,374,376,377,378,379,381,382,383,384], "labels": false, "tickSize": -4, "title": null}},
    "y": {"datum": 0.0006, "type": "quantitative", "scale": {"domain": [-0.001, 0.001]}, "axis": {"orient": "left", "values": [-0.0009,-0.0008,-0.0007,-0.0006,-0.0004,-0.0003,-0.0002,-0.0001,0.0001,0.0002,0.0003,0.0004,0.0006,0.0007,0.0008,0.0009], "labels": false, "tickSize": -9, "title": null}},
    "text": {"field": "t"}}},
  {"data": {"values": [{"t": "2"}]}, "mark": {"type": "text", "align": "left", "baseline": "alphabetic", "fontSize": 20},
   "encoding": {
    "x": {"datum": 381.95, "type": "quantitative", "scale": {"domain": [355, 385]}, "axis": {"orient": "top", "values": [356,357,358,359,361,362,363,364,366,367,368,369,371,372,373,374,376,377,378,379,381,382,383,384], "labels": false, "tickSize": -4, "title": null}},
    "y": {"datum": 0.00053, "type": "quantitative", "scale": {"domain": [-0.001, 0.001]}, "axis": {"orient": "right", "values": [-0.0009,-0.0008,-0.0007,-0.0006,-0.0004,-0.0003,-0.0002,-0.0001,0.0001,0.0002,0.0003,0.0004,0.0006,0.0007,0.0008,0.0009], "labels": false, "tickSize": -9, "title": null}},
    "text": {"field": "t"}}}
 ]},
{"width": 868, "height": 215,
 "resolve": {"axis": {"x": "independent", "y": "independent"}},
 "layer": [
  {"data": {"name": "meas"}, "mark": {"type": "line", "color": "#1a1a1a", "strokeWidth": 1.1},
   "encoding": {
    "x": {"field": "w", "type": "quantitative", "scale": {"domain": [355, 385]}, "axis": {"orient": "bottom", "values": [355,360,365,370,375,380,385], "labels": false, "tickSize": -7, "title": null}},
    "y": {"field": "o3", "type": "quantitative", "scale": {"domain": [-0.0015, 0.002]}, "axis": {"orient": "left", "values": [-0.0015,-0.001,-0.0005,0,0.0005,0.001,0.0015], "format": ".4f", "tickSize": -16, "labelPadding": 22, "title": null}}}},
  {"data": {"name": "o3f"}, "mark": {"type": "line", "color": "#ff1a1a", "strokeWidth": 1.6, "strokeDash": [2, 1.6], "interpolate": "monotone"},
   "encoding": {
    "x": {"field": "w", "type": "quantitative", "scale": {"domain": [355, 385]}, "axis": {"orient": "top", "values": [355,360,365,370,375,380,385], "labels": false, "tickSize": -7, "title": null}},
    "y": {"field": "v", "type": "quantitative", "scale": {"domain": [-0.0015, 0.002]}, "axis": {"orient": "right", "values": [-0.0015,-0.001,-0.0005,0,0.0005,0.001,0.0015], "labels": false, "tickSize": -16, "title": null}}}},
  {"data": {"values": [{"t": "O"}]}, "mark": {"type": "text", "align": "right", "baseline": "alphabetic", "fontSize": 37},
   "encoding": {
    "x": {"datum": 382.15, "type": "quantitative", "scale": {"domain": [355, 385]}, "axis": {"orient": "bottom", "values": [356,357,358,359,361,362,363,364,366,367,368,369,371,372,373,374,376,377,378,379,381,382,383,384], "labels": false, "tickSize": -4, "title": null}},
    "y": {"datum": 0.00127, "type": "quantitative", "scale": {"domain": [-0.0015, 0.002]}, "axis": {"orient": "left", "values": [-0.0014,-0.0013,-0.0012,-0.0011,-0.0009,-0.0008,-0.0007,-0.0006,-0.0004,-0.0003,-0.0002,-0.0001,0.0001,0.0002,0.0003,0.0004,0.0006,0.0007,0.0008,0.0009,0.0011,0.0012,0.0013,0.0014,0.0016,0.0017,0.0018,0.0019], "labels": false, "tickSize": -9, "title": null}},
    "text": {"field": "t"}}},
  {"data": {"values": [{"t": "3"}]}, "mark": {"type": "text", "align": "left", "baseline": "alphabetic", "fontSize": 20},
   "encoding": {
    "x": {"datum": 382.2, "type": "quantitative", "scale": {"domain": [355, 385]}, "axis": {"orient": "top", "values": [356,357,358,359,361,362,363,364,366,367,368,369,371,372,373,374,376,377,378,379,381,382,383,384], "labels": false, "tickSize": -4, "title": null}},
    "y": {"datum": 0.00112, "type": "quantitative", "scale": {"domain": [-0.0015, 0.002]}, "axis": {"orient": "right", "values": [-0.0014,-0.0013,-0.0012,-0.0011,-0.0009,-0.0008,-0.0007,-0.0006,-0.0004,-0.0003,-0.0002,-0.0001,0.0001,0.0002,0.0003,0.0004,0.0006,0.0007,0.0008,0.0009,0.0011,0.0012,0.0013,0.0014,0.0016,0.0017,0.0018,0.0019], "labels": false, "tickSize": -9, "title": null}},
    "text": {"field": "t"}}}
 ]},
{"width": 868, "height": 215,
 "resolve": {"axis": {"x": "independent", "y": "independent"}},
 "layer": [
  {"data": {"name": "meas"}, "mark": {"type": "line", "color": "#1a1a1a", "strokeWidth": 1.1},
   "encoding": {
    "x": {"field": "w", "type": "quantitative", "scale": {"domain": [355, 385]}, "axis": {"orient": "bottom", "values": [355,360,365,370,375,380,385], "labels": false, "tickSize": -7, "title": null}},
    "y": {"field": "bro", "type": "quantitative", "scale": {"domain": [-0.0006, 0.0008]}, "axis": {"orient": "left", "values": [-0.0006,-0.0004,-0.0002,0,0.0002,0.0004,0.0006], "format": ".4f", "tickSize": -16, "labelPadding": 22, "title": null}}}},
  {"data": {"name": "brof"}, "mark": {"type": "line", "color": "#ff1a1a", "strokeWidth": 1.6, "strokeDash": [2, 1.6], "interpolate": "monotone"},
   "encoding": {
    "x": {"field": "w", "type": "quantitative", "scale": {"domain": [355, 385]}, "axis": {"orient": "top", "values": [355,360,365,370,375,380,385], "labels": false, "tickSize": -7, "title": null}},
    "y": {"field": "v", "type": "quantitative", "scale": {"domain": [-0.0006, 0.0008]}, "axis": {"orient": "right", "values": [-0.0006,-0.0004,-0.0002,0,0.0002,0.0004,0.0006], "labels": false, "tickSize": -16, "title": null}}}},
  {"data": {"values": [{"t": "BrO"}]}, "mark": {"type": "text", "align": "left", "baseline": "alphabetic", "fontSize": 37},
   "encoding": {
    "x": {"datum": 381.11, "type": "quantitative", "scale": {"domain": [355, 385]}, "axis": {"orient": "bottom", "values": [356,357,358,359,361,362,363,364,366,367,368,369,371,372,373,374,376,377,378,379,381,382,383,384], "labels": false, "tickSize": -4, "title": null}},
    "y": {"datum": 0.000511, "type": "quantitative", "scale": {"domain": [-0.0006, 0.0008]}, "axis": {"orient": "left", "values": [-0.00055,-0.0005,-0.00045,-0.00035,-0.0003,-0.00025,-0.00015,-0.0001,-0.00005,0.00005,0.0001,0.00015,0.00025,0.0003,0.00035,0.00045,0.0005,0.00055,0.00065,0.0007,0.00075], "labels": false, "tickSize": -9, "title": null}},
    "text": {"field": "t"}}},
  {"data": {"values": [{"t": ""}]}, "mark": {"type": "text"},
   "encoding": {
    "x": {"datum": 381, "type": "quantitative", "scale": {"domain": [355, 385]}, "axis": {"orient": "top", "values": [356,357,358,359,361,362,363,364,366,367,368,369,371,372,373,374,376,377,378,379,381,382,383,384], "labels": false, "tickSize": -4, "title": null}},
    "y": {"datum": 0, "type": "quantitative", "scale": {"domain": [-0.0006, 0.0008]}, "axis": {"orient": "right", "values": [-0.00055,-0.0005,-0.00045,-0.00035,-0.0003,-0.00025,-0.00015,-0.0001,-0.00005,0.00005,0.0001,0.00015,0.00025,0.0003,0.00035,0.00045,0.0005,0.00055,0.00065,0.0007,0.00075], "labels": false, "tickSize": -9, "title": null}},
    "text": {"field": "t"}}}
 ]},
{"width": 868, "height": 215,
 "resolve": {"axis": {"x": "independent", "y": "independent"}},
 "layer": [
  {"data": {"name": "meas"}, "mark": {"type": "line", "color": "#1a1a1a", "strokeWidth": 1.1},
   "encoding": {
    "x": {"field": "w", "type": "quantitative", "scale": {"domain": [355, 385]}, "axis": {"orient": "bottom", "values": [355,360,365,370,375,380,385], "labels": false, "tickSize": -7, "title": null}},
    "y": {"field": "oclo", "type": "quantitative", "scale": {"domain": [-0.001, 0.0015]}, "axis": {"orient": "left", "values": [-0.001,-0.0005,0,0.0005,0.001], "format": ".4f", "tickSize": -16, "labelPadding": 22, "title": "Differential Optical Depth", "titleFont": "Liberation Sans", "titleFontSize": 47.5, "titleFontWeight": "normal", "titleColor": "#111111", "titleX": -82, "titleY": 25, "titleAngle": 270, "titleAlign": "center", "titleBaseline": "alphabetic"}}}},
  {"data": {"name": "oclof"}, "mark": {"type": "line", "color": "#ff1a1a", "strokeWidth": 1.6, "strokeDash": [2, 1.6], "interpolate": "monotone"},
   "encoding": {
    "x": {"field": "w", "type": "quantitative", "scale": {"domain": [355, 385]}, "axis": {"orient": "top", "values": [355,360,365,370,375,380,385], "labels": false, "tickSize": -7, "title": null}},
    "y": {"field": "v", "type": "quantitative", "scale": {"domain": [-0.001, 0.0015]}, "axis": {"orient": "right", "values": [-0.001,-0.0005,0,0.0005,0.001], "labels": false, "tickSize": -16, "title": null}}}},
  {"data": {"values": [{"t": "OClO"}]}, "mark": {"type": "text", "align": "left", "baseline": "alphabetic", "fontSize": 37},
   "encoding": {
    "x": {"datum": 380.91, "type": "quantitative", "scale": {"domain": [355, 385]}, "axis": {"orient": "bottom", "values": [356,357,358,359,361,362,363,364,366,367,368,369,371,372,373,374,376,377,378,379,381,382,383,384], "labels": false, "tickSize": -4, "title": null}},
    "y": {"datum": 0.000988, "type": "quantitative", "scale": {"domain": [-0.001, 0.0015]}, "axis": {"orient": "left", "values": [-0.0009,-0.0008,-0.0007,-0.0006,-0.0004,-0.0003,-0.0002,-0.0001,0.0001,0.0002,0.0003,0.0004,0.0006,0.0007,0.0008,0.0009,0.0011,0.0012,0.0013,0.0014], "labels": false, "tickSize": -9, "title": null}},
    "text": {"field": "t"}}},
  {"data": {"values": [{"t": ""}]}, "mark": {"type": "text"},
   "encoding": {
    "x": {"datum": 381, "type": "quantitative", "scale": {"domain": [355, 385]}, "axis": {"orient": "top", "values": [356,357,358,359,361,362,363,364,366,367,368,369,371,372,373,374,376,377,378,379,381,382,383,384], "labels": false, "tickSize": -4, "title": null}},
    "y": {"datum": 0, "type": "quantitative", "scale": {"domain": [-0.001, 0.0015]}, "axis": {"orient": "right", "values": [-0.0009,-0.0008,-0.0007,-0.0006,-0.0004,-0.0003,-0.0002,-0.0001,0.0001,0.0002,0.0003,0.0004,0.0006,0.0007,0.0008,0.0009,0.0011,0.0012,0.0013,0.0014], "labels": false, "tickSize": -9, "title": null}},
    "text": {"field": "t"}}}
 ]},
{"width": 868, "height": 215,
 "resolve": {"axis": {"x": "independent", "y": "independent"}},
 "layer": [
  {"data": {"name": "meas"}, "mark": {"type": "line", "color": "#1a1a1a", "strokeWidth": 1.1},
   "encoding": {
    "x": {"field": "w", "type": "quantitative", "scale": {"domain": [355, 385]}, "axis": {"orient": "bottom", "values": [355,360,365,370,375,380,385], "labels": false, "tickSize": -7, "title": null}},
    "y": {"field": "o4", "type": "quantitative", "scale": {"domain": [-0.005, 0.001]}, "axis": {"orient": "left", "values": [-0.005,-0.004,-0.003,-0.002,-0.001,0], "format": ".4f", "tickSize": -16, "labelPadding": 22, "title": null}}}},
  {"data": {"name": "o4f"}, "mark": {"type": "line", "color": "#ff1a1a", "strokeWidth": 1.6, "strokeDash": [2, 1.6], "interpolate": "monotone"},
   "encoding": {
    "x": {"field": "w", "type": "quantitative", "scale": {"domain": [355, 385]}, "axis": {"orient": "top", "values": [355,360,365,370,375,380,385], "labels": false, "tickSize": -7, "title": null}},
    "y": {"field": "v", "type": "quantitative", "scale": {"domain": [-0.005, 0.001]}, "axis": {"orient": "right", "values": [-0.005,-0.004,-0.003,-0.002,-0.001,0], "labels": false, "tickSize": -16, "title": null}}}},
  {"data": {"values": [{"t": "O"}]}, "mark": {"type": "text", "align": "right", "baseline": "alphabetic", "fontSize": 37},
   "encoding": {
    "x": {"datum": 381.6, "type": "quantitative", "scale": {"domain": [355, 385]}, "axis": {"orient": "bottom", "values": [356,357,358,359,361,362,363,364,366,367,368,369,371,372,373,374,376,377,378,379,381,382,383,384], "labels": false, "tickSize": -4, "title": null}},
    "y": {"datum": -0.00028, "type": "quantitative", "scale": {"domain": [-0.005, 0.001]}, "axis": {"orient": "left", "values": [-0.0049,-0.0048,-0.0047,-0.0046,-0.0045,-0.0044,-0.0043,-0.0042,-0.0041,-0.0039,-0.0038,-0.0037,-0.0036,-0.0035,-0.0034,-0.0033,-0.0032,-0.0031,-0.0029,-0.0028,-0.0027,-0.0026,-0.0025,-0.0024,-0.0023,-0.0022,-0.0021,-0.0019,-0.0018,-0.0017,-0.0016,-0.0015,-0.0014,-0.0013,-0.0012,-0.0011,-0.0009,-0.0008,-0.0007,-0.0006,-0.0005,-0.0004,-0.0003,-0.0002,-0.0001,0.0001,0.0002,0.0003,0.0004,0.0005,0.0006,0.0007,0.0008,0.0009], "labels": false, "tickSize": -9, "title": null}},
    "text": {"field": "t"}}},
  {"data": {"values": [{"t": "4"}]}, "mark": {"type": "text", "align": "left", "baseline": "alphabetic", "fontSize": 20},
   "encoding": {
    "x": {"datum": 381.65, "type": "quantitative", "scale": {"domain": [355, 385]}, "axis": {"orient": "top", "values": [356,357,358,359,361,362,363,364,366,367,368,369,371,372,373,374,376,377,378,379,381,382,383,384], "labels": false, "tickSize": -4, "title": null}},
    "y": {"datum": -0.00047, "type": "quantitative", "scale": {"domain": [-0.005, 0.001]}, "axis": {"orient": "right", "values": [-0.0049,-0.0048,-0.0047,-0.0046,-0.0045,-0.0044,-0.0043,-0.0042,-0.0041,-0.0039,-0.0038,-0.0037,-0.0036,-0.0035,-0.0034,-0.0033,-0.0032,-0.0031,-0.0029,-0.0028,-0.0027,-0.0026,-0.0025,-0.0024,-0.0023,-0.0022,-0.0021,-0.0019,-0.0018,-0.0017,-0.0016,-0.0015,-0.0014,-0.0013,-0.0012,-0.0011,-0.0009,-0.0008,-0.0007,-0.0006,-0.0005,-0.0004,-0.0003,-0.0002,-0.0001,0.0001,0.0002,0.0003,0.0004,0.0005,0.0006,0.0007,0.0008,0.0009], "labels": false, "tickSize": -9, "title": null}},
    "text": {"field": "t"}}}
 ]},
{"width": 868, "height": 215,
 "resolve": {"axis": {"x": "independent", "y": "independent"}},
 "layer": [
  {"data": {"name": "meas"}, "mark": {"type": "line", "color": "#1a1a1a", "strokeWidth": 1.1},
   "encoding": {
    "x": {"field": "w", "type": "quantitative", "scale": {"domain": [355, 385]}, "axis": {"orient": "bottom", "values": [355,360,365,370,375,380,385], "labels": false, "tickSize": -7, "title": null}},
    "y": {"field": "res", "type": "quantitative", "scale": {"domain": [-0.0006, 0.0006]}, "axis": {"orient": "left", "values": [-0.0006,-0.0004,-0.0002,0,0.0002,0.0004], "format": ".4f", "tickSize": -16, "labelPadding": 22, "title": null}}}},
  {"data": {"name": "ringf"}, "mark": {"type": "line", "color": "#ff1a1a", "strokeWidth": 1.6, "strokeDash": [2, 1.6], "interpolate": "monotone"},
   "encoding": {
    "x": {"field": "w", "type": "quantitative", "scale": {"domain": [355, 385]}, "axis": {"orient": "top", "values": [355,360,365,370,375,380,385], "labels": false, "tickSize": -7, "title": null}},
    "y": {"field": "v", "type": "quantitative", "scale": {"domain": [-0.0006, 0.0006]}, "axis": {"orient": "right", "values": [-0.0006,-0.0004,-0.0002,0,0.0002,0.0004], "labels": false, "tickSize": -16, "title": null}}}},
  {"data": {"values": [{"t": "Ring"}]}, "mark": {"type": "text", "align": "left", "baseline": "alphabetic", "fontSize": 37},
   "encoding": {
    "x": {"datum": 380.34, "type": "quantitative", "scale": {"domain": [355, 385]}, "axis": {"orient": "bottom", "values": [356,357,358,359,361,362,363,364,366,367,368,369,371,372,373,374,376,377,378,379,381,382,383,384], "labels": false, "tickSize": -4, "title": null}},
    "y": {"datum": 0.000384, "type": "quantitative", "scale": {"domain": [-0.0006, 0.0006]}, "axis": {"orient": "left", "values": [-0.00055,-0.0005,-0.00045,-0.00035,-0.0003,-0.00025,-0.00015,-0.0001,-0.00005,0.00005,0.0001,0.00015,0.00025,0.0003,0.00035,0.00045,0.0005,0.00055], "labels": false, "tickSize": -9, "title": null}},
    "text": {"field": "t"}}},
  {"data": {"values": [{"t": ""}]}, "mark": {"type": "text"},
   "encoding": {
    "x": {"datum": 381, "type": "quantitative", "scale": {"domain": [355, 385]}, "axis": {"orient": "top", "values": [356,357,358,359,361,362,363,364,366,367,368,369,371,372,373,374,376,377,378,379,381,382,383,384], "labels": false, "tickSize": -4, "title": null}},
    "y": {"datum": 0, "type": "quantitative", "scale": {"domain": [-0.0006, 0.0006]}, "axis": {"orient": "right", "values": [-0.00055,-0.0005,-0.00045,-0.00035,-0.0003,-0.00025,-0.00015,-0.0001,-0.00005,0.00005,0.0001,0.00015,0.00025,0.0003,0.00035,0.00045,0.0005,0.00055], "labels": false, "tickSize": -9, "title": null}},
    "text": {"field": "t"}}}
 ]},
{"width": 868, "height": 205,
 "resolve": {"axis": {"x": "independent", "y": "independent"}},
 "layer": [
  {"data": {"name": "meas"}, "mark": {"type": "line", "color": "#1a1a1a", "strokeWidth": 1.1},
   "encoding": {
    "x": {"field": "w", "type": "quantitative", "scale": {"domain": [355, 385]}, "axis": {"orient": "bottom", "values": [355,360,365,370,375,380,385], "format": "d", "labels": true, "labelFontSize": 13, "labelPadding": 15, "tickSize": -7, "title": "Wavelength [nm]", "titleFont": "Liberation Sans", "titleFontSize": 23.5, "titleFontWeight": "normal", "titleColor": "#111111", "titleX": 451, "titleY": 56, "titleAlign": "center", "titleBaseline": "alphabetic"}},
    "y": {"field": "res", "type": "quantitative", "scale": {"domain": [-0.0006, 0.0006]}, "axis": {"orient": "left", "values": [-0.0006,-0.0004,-0.0002,0,0.0002,0.0004], "format": ".4f", "tickSize": -16, "labelPadding": 22, "title": null}}}},
  {"data": {"values": [{"t": "Residual"}]}, "mark": {"type": "text", "align": "left", "baseline": "alphabetic", "fontSize": 37},
   "encoding": {
    "x": {"datum": 379.13, "type": "quantitative", "scale": {"domain": [355, 385]}, "axis": {"orient": "top", "values": [355,360,365,370,375,380,385], "labels": false, "tickSize": -7, "title": null}},
    "y": {"datum": 0.000376, "type": "quantitative", "scale": {"domain": [-0.0006, 0.0006]}, "axis": {"orient": "right", "values": [-0.0006,-0.0004,-0.0002,0,0.0002,0.0004], "labels": false, "tickSize": -16, "title": null}},
    "text": {"field": "t"}}},
  {"data": {"values": [{"t": ""}]}, "mark": {"type": "text"},
   "encoding": {
    "x": {"datum": 381, "type": "quantitative", "scale": {"domain": [355, 385]}, "axis": {"orient": "bottom", "values": [356,357,358,359,361,362,363,364,366,367,368,369,371,372,373,374,376,377,378,379,381,382,383,384], "labels": false, "tickSize": -4, "title": null}},
    "y": {"datum": 0, "type": "quantitative", "scale": {"domain": [-0.0006, 0.0006]}, "axis": {"orient": "left", "values": [-0.00055,-0.0005,-0.00045,-0.00035,-0.0003,-0.00025,-0.00015,-0.0001,-0.00005,0.00005,0.0001,0.00015,0.00025,0.0003,0.00035,0.00045,0.0005,0.00055], "labels": false, "tickSize": -9, "title": null}},
    "text": {"field": "t"}}},
  {"data": {"values": [{"t": ""}]}, "mark": {"type": "text"},
   "encoding": {
    "x": {"datum": 381, "type": "quantitative", "scale": {"domain": [355, 385]}, "axis": {"orient": "top", "values": [356,357,358,359,361,362,363,364,366,367,368,369,371,372,373,374,376,377,378,379,381,382,383,384], "labels": false, "tickSize": -4, "title": null}},
    "y": {"datum": 0, "type": "quantitative", "scale": {"domain": [-0.0006, 0.0006]}, "axis": {"orient": "right", "values": [-0.00055,-0.0005,-0.00045,-0.00035,-0.0003,-0.00025,-0.00015,-0.0001,-0.00005,0.00005,0.0001,0.00015,0.00025,0.0003,0.00035,0.00045,0.0005,0.00055], "labels": false, "tickSize": -9, "title": null}},
    "text": {"field": "t"}}}
 ]}
],
"config": {
 "view": {"stroke": "#222222", "strokeWidth": 1.4},
 "axis": {"domain": false, "grid": false, "labelFont": "Liberation Sans", "labelFontSize": 14.5, "labelColor": "#333333", "tickColor": "#333333", "tickWidth": 1.2, "labelFlush": false, "labelOverlap": false, "labelBound": false},
 "text": {"font": "Liberation Sans", "color": "#1a1a1a"}
}
}
